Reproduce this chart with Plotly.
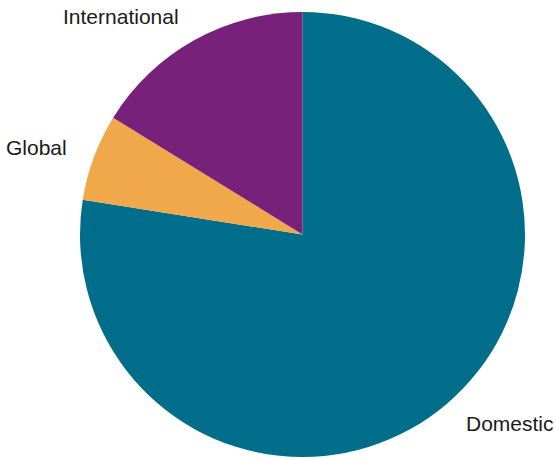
import math
import plotly.graph_objects as go

labels = ["Domestic", "Global", "International"]
values = [77.5, 6.3, 16.2]
colors = ["#006E8A", "#F0A84B", "#77217B"]

W, H = 555, 458
# pie geometry (pixels)
cx, cy_top, r = 302.5, 234.5, 222.5
dom_x = [(cx - (W - cx)) / W, 1.0]
dom_y = [(H - (cy_top + r)) / H, (H - (cy_top - r)) / H]

fig = go.Figure(go.Pie(
    labels=labels,
    values=values,
    sort=False,
    direction="clockwise",
    rotation=0,
    marker=dict(colors=colors, line=dict(width=0)),
    textinfo="none",
    showlegend=False,
    hoverinfo="label+percent",
    domain=dict(x=dom_x, y=dom_y),
))

# labels placed just outside each slice's mid-angle
total = sum(values)
cum = 0.0
lab_r = r * 1.12
for lab, v in zip(labels, values):
    mid = (cum + v / 2) / total * 2 * math.pi
    cum += v
    px = cx + lab_r * math.sin(mid)
    py = (H - cy_top) + lab_r * math.cos(mid)
    fig.add_annotation(
        x=px / W, y=py / H, xref="paper", yref="paper",
        text=lab, showarrow=False,
        xanchor="left" if math.sin(mid) > 0 else "right",
        yanchor="middle",
        font=dict(family="Liberation Sans, Arial, sans-serif", size=21, color="#1a1a1a"),
    )

fig.update_layout(
    width=W, height=H,
    margin=dict(l=0, r=0, t=0, b=0),
    paper_bgcolor="white",
    plot_bgcolor="white",
)
fig.write_html("out.html", config={"displayModeBar": False},
               post_script="document.body.style.margin='0';")
